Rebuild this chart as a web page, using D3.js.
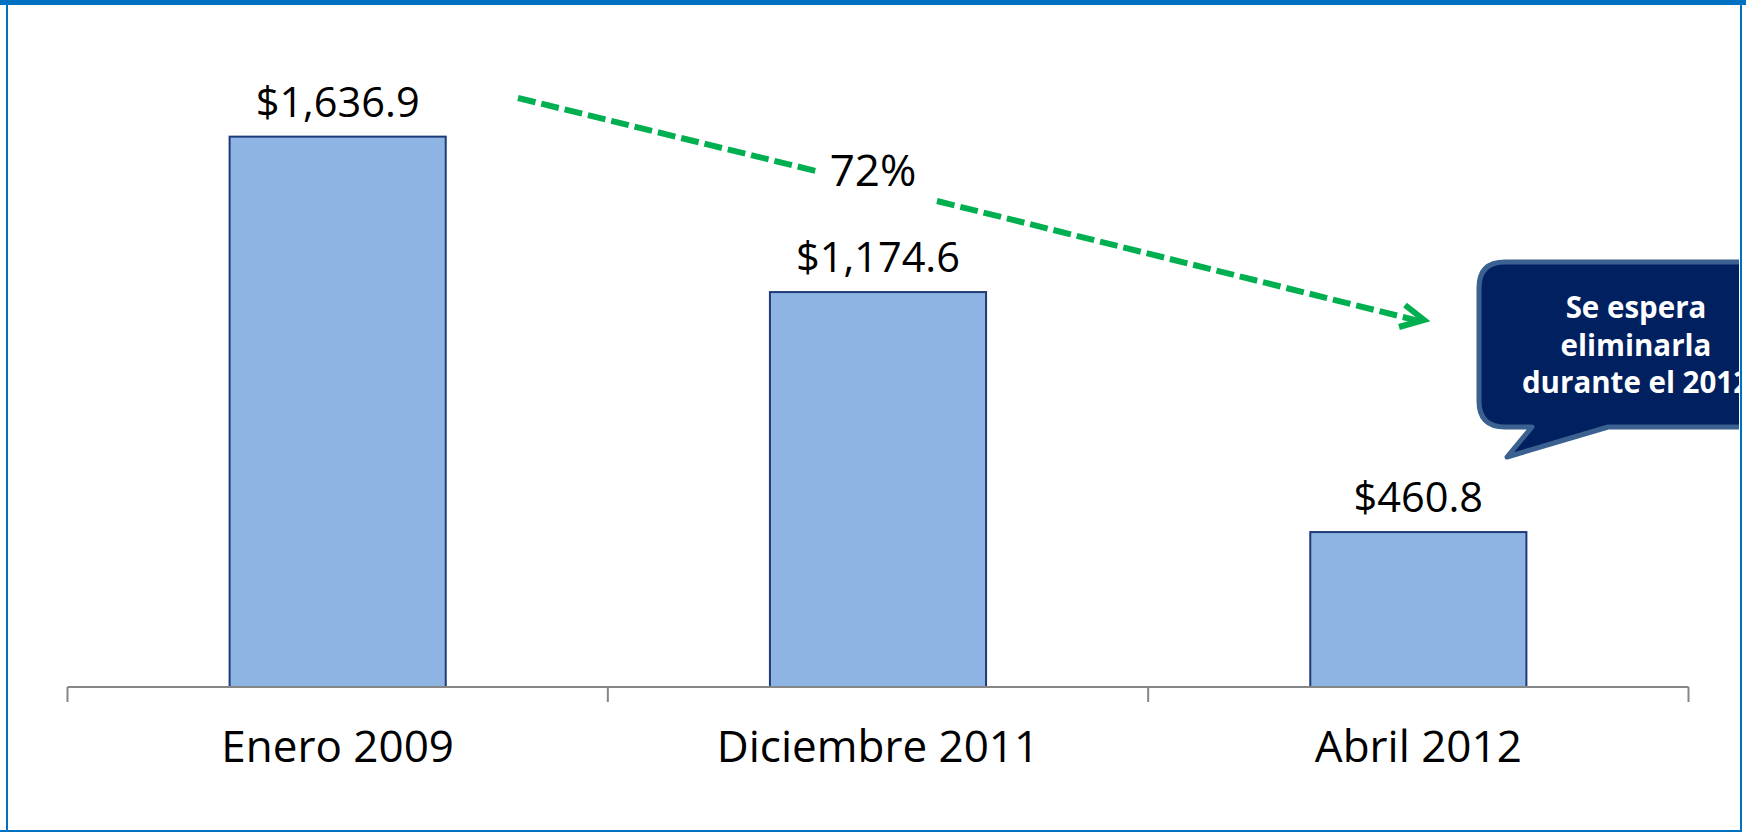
<!DOCTYPE html>
<html>
<head>
<meta charset="utf-8">
<script src="https://cdn.jsdelivr.net/npm/d3@7"></script>
<style>
  html, body { margin: 0; padding: 0; background: #ffffff; }
  svg { display: block; }
</style>
</head>
<body>
<svg id="chart" width="1746" height="832"></svg>
<script>
const categories = ["Enero 2009", "Diciembre 2011", "Abril 2012"];
const values = [1636.9, 1174.6, 460.8];
const valueLabels = ["$1,636.9", "$1,174.6", "$460.8"];
const changeLabel = "72%";
const calloutLines = ["Se espera", "eliminarla", "durante el 2012"];

const W = 1746, H = 832;
const svg = d3.select("#chart");
const FONT = "'Open Sans', 'Noto Sans', sans-serif";

const baseY = 687;
const x = d3.scaleBand().domain(categories).range([67.5, 1688.5]).padding(0);
const y = d3.scaleLinear().domain([0, 1800]).range([baseY, 81.8]);
const barFrac = 0.4;

// frame
svg.append("rect").attr("x", 0).attr("y", 0).attr("width", W).attr("height", 5).attr("fill", "#0070C0");
svg.append("line").attr("x1", 7).attr("x2", 7).attr("y1", 0).attr("y2", 832).attr("stroke", "#0070C0").attr("stroke-width", 2);
svg.append("line").attr("x1", 0).attr("x2", 1742).attr("y1", 831).attr("y2", 831).attr("stroke", "#0070C0").attr("stroke-width", 2);

// bars
const bw = x.bandwidth() * barFrac;
svg.selectAll("rect.bar").data(values).enter().append("rect")
  .attr("class", "bar")
  .attr("x", (d, i) => x(categories[i]) + (x.bandwidth() - bw) / 2)
  .attr("y", d => y(d))
  .attr("width", bw)
  .attr("height", d => baseY - y(d))
  .attr("fill", "#8EB4E3")
  .attr("stroke", "#1F3A78")
  .attr("stroke-width", 2);

// value labels
svg.selectAll("text.val").data(values).enter().append("text")
  .attr("class", "val")
  .attr("x", (d, i) => x(categories[i]) + x.bandwidth() / 2)
  .attr("y", d => y(d) - 20)
  .attr("text-anchor", "middle")
  .attr("font-family", FONT)
  .attr("font-size", 41.5)
  .attr("fill", "#000")
  .text((d, i) => valueLabels[i]);

// axis
const axis = d3.axisBottom(x).tickSize(0).tickPadding(0);
const gAxis = svg.append("g").attr("transform", `translate(0,${baseY})`).call(axis);
gAxis.select(".domain").attr("stroke", "#868686").attr("stroke-width", 2)
  .attr("d", `M${x.range()[0]},0H${x.range()[1]}`);
gAxis.selectAll(".tick text")
  .attr("font-family", FONT).attr("font-size", 44).attr("fill", "#000")
  .attr("dy", null).attr("y", 75);
// boundary ticks
const bounds = categories.map(c => x(c)).concat([x.range()[1]]);
gAxis.selectAll("line.btick").data(bounds).enter().append("line")
  .attr("class", "btick")
  .attr("x1", d => d).attr("x2", d => d)
  .attr("y1", 0).attr("y2", 15)
  .attr("stroke", "#868686").attr("stroke-width", 2);

// dashed arrow
const green = "#00B050";
const p0 = [518, 98], p1 = [1423, 322];
const gap0 = [816, 171], gap1 = [937, 201];
[[p0, gap0], [gap1, p1]].forEach(seg => {
  svg.append("line")
    .attr("x1", seg[0][0]).attr("y1", seg[0][1])
    .attr("x2", seg[1][0]).attr("y2", seg[1][1])
    .attr("stroke", green).attr("stroke-width", 6)
    .attr("stroke-dasharray", "18,6");
});
svg.append("polyline")
  .attr("points", "1405,305 1424,320 1399,327")
  .attr("fill", "none").attr("stroke", green).attr("stroke-width", 6)
  .attr("stroke-linejoin", "miter");

svg.append("text")
  .attr("x", 873).attr("y", 186)
  .attr("text-anchor", "middle")
  .attr("font-family", FONT).attr("font-size", 44).attr("fill", "#000")
  .text(changeLabel);

// callout
const defs = svg.append("defs");
defs.append("clipPath").attr("id", "clipC").append("rect")
  .attr("x", 0).attr("y", 0).attr("width", 1739).attr("height", H);
const gc = svg.append("g").attr("clip-path", "url(#clipC)");
const L = 1479, T = 262, R = 1800, B = 427, r = 26;
const path = `M${L + r},${T} H${R - r} Q${R},${T} ${R},${T + r} V${B - r} Q${R},${B} ${R - r},${B}
  H1608 L1507,457 L1532,${B} H${L + r} Q${L},${B} ${L},${B - r} V${T + r} Q${L},${T} ${L + r},${T} Z`;
gc.append("path").attr("d", path)
  .attr("fill", "#002060").attr("stroke", "#3B6190").attr("stroke-width", 5)
  .attr("stroke-linejoin", "round");
gc.selectAll("text.co").data(calloutLines).enter().append("text")
  .attr("class", "co")
  .attr("x", 1636)
  .attr("y", (d, i) => 318 + i * 37.5)
  .attr("text-anchor", "middle")
  .attr("font-family", FONT).attr("font-weight", "bold").attr("font-size", 29.5)
  .attr("fill", "#fff")
  .text(d => d);

svg.append("line").attr("x1", 1741).attr("x2", 1741).attr("y1", 0).attr("y2", 832).attr("stroke", "#0070C0").attr("stroke-width", 2);
</script>
</body>
</html>
